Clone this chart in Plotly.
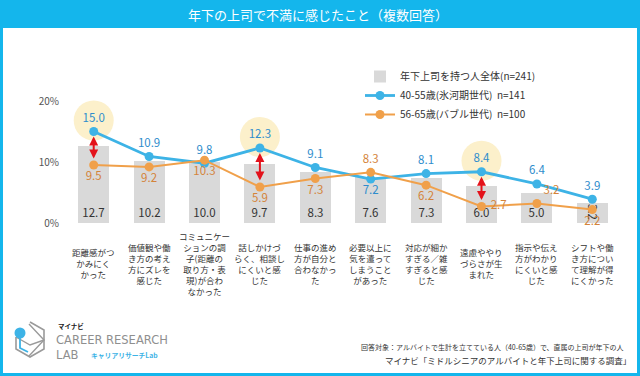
import plotly.graph_objects as go

# ---------------- data ----------------
categories = [
    "距離感がつ<br>かみにく<br>かった",
    "価値観や働<br>き方の考え<br>方にズレを<br>感じた",
    "コミュニケー<br>ションの調<br>子(距離の<br>取り方・表<br>現)が合わ<br>なかった",
    "話しかけづ<br>らく、相談し<br>にくいと感<br>じた",
    "仕事の進め<br>方が自分と<br>合わなかっ<br>た",
    "必要以上に<br>気を遣って<br>しまうこと<br>があった",
    "対応が細か<br>すぎる／雑<br>すぎると感<br>じた",
    "遠慮ややり<br>づらさが生<br>まれた",
    "指示や伝え<br>方がわかり<br>にくいと感<br>じた",
    "シフトや働<br>き方につい<br>て理解が得<br>にくかった",
]
total_all = [12.7, 10.2, 10.0, 9.7, 8.3, 7.6, 7.3, 6.0, 5.0, 3.2]
ice_age = [15.0, 10.9, 9.8, 12.3, 9.1, 7.2, 8.1, 8.4, 6.4, 3.9]
bubble = [9.5, 9.2, 10.3, 5.9, 7.3, 8.3, 6.2, 2.7, 3.2, 2.2]
highlight = [0, 3, 7]

series_names = ["年下上司を持つ人全体(n=241)",
                "40-55歳(氷河期世代)  n=141",
                "56-65歳(バブル世代)  n=100"]
y_ticks = [0, 10, 20]
y_tick_text = ["0%", "10%", "20%"]

title_text = "年下の上司で不満に感じたこと（複数回答）"
note1 = "回答対象：アルバイトで生計を立てている人（40-65歳）で、直属の上司が年下の人"
note2 = "マイナビ「ミドルシニアのアルバイトと年下上司に関する調査」"

# ---------------- layout geometry ----------------
W, H = 640, 376
L, R, T, B = 66, 20, 77, 153
PW, PH = W - L - R, H - T - B
FONT = "Noto Sans CJK JP"
BLUE_FRAME = "#14b6ec"
C_BAR = "#d9d9d9"
C_BLUE = "#3db3e6"
C_BLUE_T = "#2f8dcc"
C_ORANGE = "#f0a04a"
C_ORANGE_T = "#d4843a"


def px(x):
    return (x - L) / PW


def py(y):
    return (T + PH - y) / PH


x_idx = list(range(len(categories)))

blue_pos = ["top center"] * len(ice_age)
blue_pos[5] = "bottom center"
orange_pos = ["bottom center"] * len(bubble)
orange_pos[5] = "top center"
orange_pos[7] = "middle right"
orange_pos[8] = "top right"

orange_text = [f"{v:.1f}" for v in bubble]
orange_text[7] = " " + orange_text[7]

fig = go.Figure()
fig.add_trace(go.Bar(
    x=x_idx, y=total_all, name=series_names[0],
    marker=dict(color=C_BAR, line=dict(width=0)), width=0.56,
    text=[f"{v:.1f}" for v in total_all], textposition="inside",
    insidetextanchor="start", constraintext="none",
    textfont=dict(size=11.5, color="#333333", family=FONT),
    hoverinfo="skip",
))
fig.add_trace(go.Scatter(
    x=x_idx, y=ice_age, name=series_names[1], mode="lines+markers+text",
    line=dict(color=C_BLUE, width=2.8), marker=dict(color=C_BLUE, size=9),
    text=[f"{v:.1f}" for v in ice_age], textposition=blue_pos,
    textfont=dict(size=11.5, color=C_BLUE_T, family=FONT), cliponaxis=False,
))
fig.add_trace(go.Scatter(
    x=x_idx, y=bubble, name=series_names[2], mode="lines+markers+text",
    line=dict(color=C_ORANGE, width=2), marker=dict(color=C_ORANGE, size=9),
    text=orange_text, textposition=orange_pos,
    textfont=dict(size=11.5, color=C_ORANGE_T, family=FONT), cliponaxis=False,
))

shapes = []
# highlight circles
for i in highlight:
    shapes.append(dict(type="circle", xref="x", yref="y",
                       xsizemode="pixel", ysizemode="pixel",
                       xanchor=i, yanchor=ice_age[i],
                       x0=-20, x1=20, y0=-9, y1=31,
                       fillcolor="#fcf0cb", line=dict(width=0), layer="below"))
# title bar
shapes.append(dict(type="rect", xref="paper", yref="paper",
                   x0=px(0), x1=px(W), y0=py(28), y1=py(0),
                   fillcolor=BLUE_FRAME, line=dict(width=0), layer="below"))
# frame
shapes.append(dict(type="rect", xref="paper", yref="paper",
                   x0=px(1.5), x1=px(W - 1.5), y0=py(H - 1.5), y1=py(1.5),
                   line=dict(color=BLUE_FRAME, width=3), fillcolor="rgba(0,0,0,0)"))


# logo icon (cube outline + blue pin)
def path(points, close=False):
    s = "M " + " L ".join(f"{px(a)},{py(b)}" for a, b in points)
    return s + (" Z" if close else "")


shapes.append(dict(type="path", xref="paper", yref="paper",
                   path=path([(30, 322), (44, 330), (44, 349), (30, 357), (16, 349), (16, 337)]),
                   line=dict(color="#9a9a9a", width=1.6)))
shapes.append(dict(type="path", xref="paper", yref="paper",
                   path=path([(29, 324), (44, 340), (29, 356)]),
                   line=dict(color="#9a9a9a", width=1.4)))
shapes.append(dict(type="path", xref="paper", yref="paper",
                   path=path([(16, 337), (30, 345), (44, 340)]),
                   line=dict(color="#9a9a9a", width=1.4)))
shapes.append(dict(type="path", xref="paper", yref="paper",
                   path=path([(20, 333), (20, 348), (28, 352)]),
                   line=dict(color=C_BLUE, width=1.8)))
shapes.append(dict(type="circle", xref="paper", yref="paper",
                   x0=px(14.5), x1=px(25.5), y0=py(338.5), y1=py(327.5),
                   fillcolor=C_BLUE, line=dict(width=0)))

annotations = []
# red double arrows
for i in highlight:
    annotations.append(dict(x=i, y=ice_age[i], ax=i, ay=bubble[i],
                            xref="x", yref="y", axref="x", ayref="y",
                            showarrow=True, arrowside="end+start", arrowhead=2,
                            arrowsize=0.9, arrowwidth=2, arrowcolor="#e3121b",
                            standoff=5, startstandoff=5, text=""))
# category labels
for i, c in enumerate(categories):
    annotations.append(dict(x=i, y=py(263), xref="x", yref="paper", text=c,
                            showarrow=False, yanchor="middle", xanchor="center",
                            align="center",
                            font=dict(size=8.5, color="#333333", family=FONT)))
# title
annotations.append(dict(x=px(318), y=py(14), xref="paper", yref="paper",
                        text=title_text, showarrow=False, xanchor="center",
                        yanchor="middle", font=dict(size=13, color="white", family=FONT)))
# notes
annotations.append(dict(x=px(626), y=py(347), xref="paper", yref="paper",
                        text=note1, showarrow=False, xanchor="right", yanchor="middle",
                        font=dict(size=7, color="#333333", family=FONT)))
annotations.append(dict(x=px(633), y=py(360), xref="paper", yref="paper",
                        text=note2, showarrow=False, xanchor="right", yanchor="middle",
                        font=dict(size=8.5, color="#333333", family=FONT)))
# logo texts
annotations.append(dict(x=px(56), y=py(326), xref="paper", yref="paper",
                        text="<b>マイナビ</b>", showarrow=False, xanchor="left", yanchor="middle",
                        font=dict(size=6.5, color="#222222", family=FONT)))
annotations.append(dict(x=px(54), y=py(347), xref="paper", yref="paper",
                        text="CAREER RESEARCH<br>LAB", showarrow=False, xanchor="left",
                        yanchor="middle", align="left",
                        font=dict(size=11.5, color="#8f8f8f", family="DejaVu Sans")))
annotations.append(dict(x=px(89), y=py(355), xref="paper", yref="paper",
                        text="<b>キャリアリサーチLab</b>", showarrow=False, xanchor="left",
                        yanchor="middle", font=dict(size=6.8, color=C_BLUE, family=FONT)))

fig.update_layout(
    width=W, height=H,
    margin=dict(l=L, r=R, t=T, b=B, pad=0),
    paper_bgcolor="white", plot_bgcolor="white",
    font=dict(family=FONT, color="#333333"),
    showlegend=True,
    legend=dict(x=px(360), y=py(62), xanchor="left", yanchor="top",
                bgcolor="rgba(255,255,255,0.85)", font=dict(size=10, color="#333333"),
                traceorder="normal", tracegroupgap=0, itemclick=False),
    xaxis=dict(range=[-0.5, 9.5], showticklabels=False, showgrid=False,
               zeroline=False, showline=False, fixedrange=True),
    yaxis=dict(range=[0, PH / 6.1], tickvals=y_ticks, ticktext=y_tick_text,
               showgrid=False, zeroline=False, showline=False,
               ticks="outside", ticklen=4, tickcolor="rgba(0,0,0,0)",
               tickfont=dict(size=10, color="#555555")),
    shapes=shapes, annotations=annotations,
    bargap=0,
)

fig.write_html("out.html")
